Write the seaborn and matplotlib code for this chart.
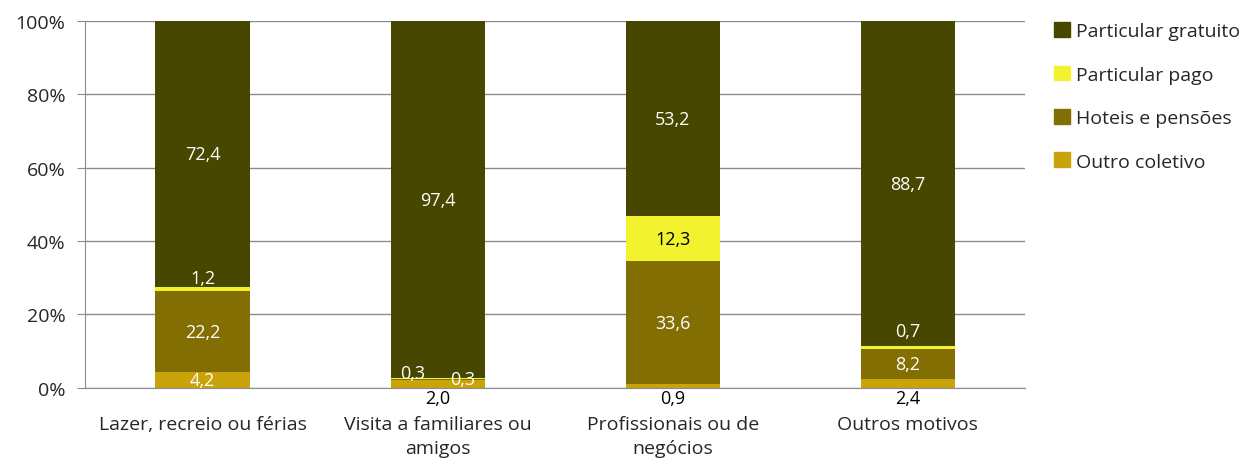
import numpy as np
import pandas as pd
import seaborn as sns
import matplotlib.pyplot as plt
from matplotlib.patches import Patch

categories = ["Lazer, recreio ou férias", "Visita a familiares ou\namigos",
              "Profissionais ou de\nnegócios", "Outros motivos"]
series = ["Outro coletivo", "Hoteis e pensões", "Particular pago", "Particular gratuito"]
outro_coletivo = [4.2, 2.0, 0.9, 2.4]
hoteis_pensoes = [22.2, 0.3, 33.6, 8.2]
particular_pago = [1.2, 0.3, 12.3, 0.7]
particular_gratuito = [72.4, 97.4, 53.2, 88.7]

colors = {"Outro coletivo": "#C8A40A", "Hoteis e pensões": "#836E04",
          "Particular pago": "#F2F22E", "Particular gratuito": "#474700"}

sns.set_style("white")
plt.rcParams["font.family"] = ["Open Sans", "DejaVu Sans"]

values = [outro_coletivo, hoteis_pensoes, particular_pago, particular_gratuito]
df = pd.DataFrame({"categoria": categories})
cum = np.zeros(len(categories))
cums = []
for name, v in zip(series, values):
    cum = cum + np.array(v)
    df[name] = cum
    cums.append(cum.copy())

fig, ax = plt.subplots(figsize=(12.49, 4.60), dpi=100)

# stacked bars: draw cumulative totals from the top layer down
for name in reversed(series):
    sns.barplot(data=df, x="categoria", y=name, color=colors[name], width=0.4,
                saturation=1, linewidth=0, ax=ax)

# value labels (offsets in points for the thin segments)
offsets = {
    (0, 2): (0, 8),
    (1, 1): (-18, 5), (1, 2): (18, 0),
    (3, 2): (0, 12),
}
for i in range(len(categories)):
    for s, name in enumerate(series):
        v = values[s][i]
        top = cums[s][i]
        mid = top - v / 2
        lab = f"{v:.1f}".replace(".", ",")
        if s == 0 and i > 0:
            ax.annotate(lab, (i, 0), xytext=(0, -1), textcoords="offset points",
                        ha="center", va="top", fontsize=13, color="black")
            continue
        dx, dy = offsets.get((i, s), (0, 0))
        col = "black" if (name == "Particular pago" and v > 5) else "white"
        ax.annotate(lab, (i, mid), xytext=(dx, dy), textcoords="offset points",
                    ha="center", va="center", fontsize=13, color=col)

ax.set_ylim(0, 100)
ax.set_xlim(-0.5, 3.5)
ax.set_yticks(np.arange(0, 101, 20))
ax.set_yticklabels([f"{t}%" for t in range(0, 101, 20)], fontsize=14)
ax.yaxis.grid(True, color="#8C8C8C", linewidth=1)
ax.set_axisbelow(True)
ax.set_xlabel("")
ax.set_ylabel("")
ax.set_xticks([0, 1, 2, 3])
ax.set_xticklabels(categories, fontsize=14, linespacing=1.4)
ax.tick_params(axis="x", length=0, pad=20)
ax.set_xticks([-0.5, 0.5, 1.5, 2.5, 3.5], minor=True)
ax.tick_params(axis="x", which="minor", length=6, color="#8C8C8C", direction="out")
ax.tick_params(axis="y", length=6, color="#8C8C8C", direction="out", left=True, pad=8)
for side in ["top", "right"]:
    ax.spines[side].set_visible(False)
for side in ["left", "bottom"]:
    ax.spines[side].set_color("#8C8C8C")

handles = [Patch(color=colors[n]) for n in reversed(series)]
ax.legend(handles, list(reversed(series)), loc="upper left", bbox_to_anchor=(1.012, 1.045),
          frameon=False, fontsize=14, handlelength=0.8, handleheight=0.8,
          labelspacing=1.3, handletextpad=0.3)

plt.subplots_adjust(left=0.068, right=0.821, top=0.952, bottom=0.155)
plt.savefig("out.png", dpi=100)
